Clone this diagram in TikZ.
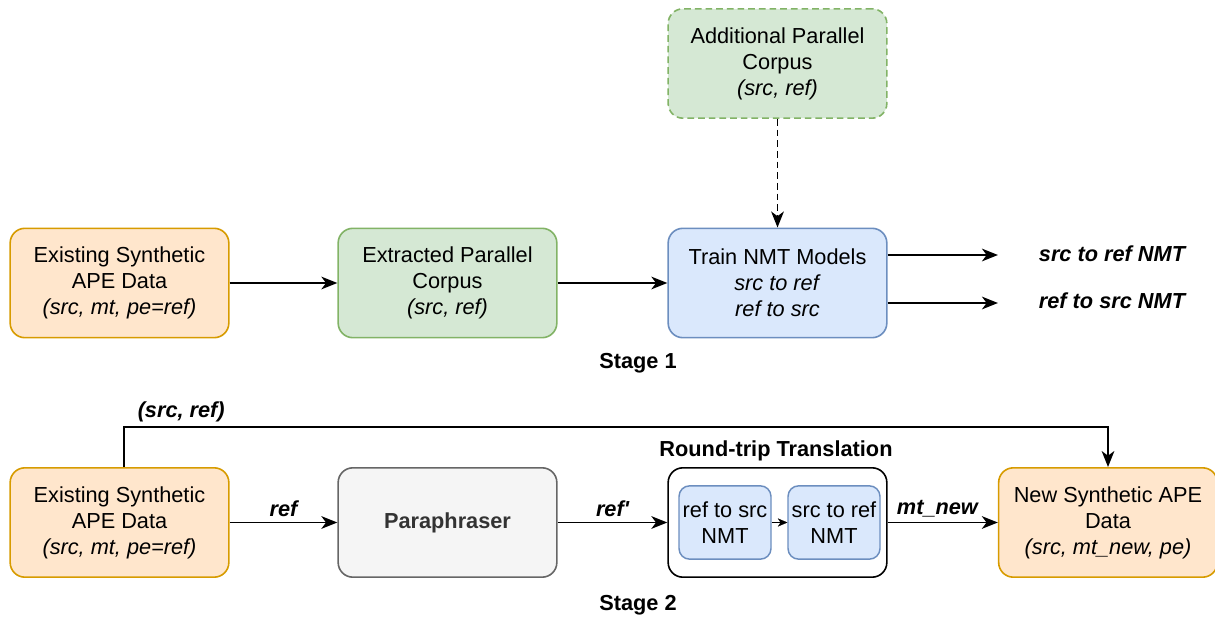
\documentclass[tikz,border=0pt]{standalone}
\usepackage{fontspec}
\setmainfont{Liberation Sans}
\usetikzlibrary{arrows.meta}
\definecolor{orfill}{HTML}{FFE6CC}
\definecolor{ordraw}{HTML}{D79B00}
\definecolor{grfill}{HTML}{D5E8D4}
\definecolor{grdraw}{HTML}{82B366}
\definecolor{blfill}{HTML}{DAE8FC}
\definecolor{bldraw}{HTML}{6C8EBF}
\definecolor{gyfill}{HTML}{F5F5F5}
\definecolor{gydraw}{HTML}{666666}
\definecolor{gytext}{HTML}{333333}
\begin{document}
\begin{tikzpicture}[x=0.75pt, y=-0.75pt,
  font=\fontsize{16.3}{19.5}\selectfont,
  box/.style={draw, rounded corners=11pt, line width=1.2pt, align=center,
              minimum width=164pt, minimum height=82pt, inner sep=2pt},
  orbox/.style={box, fill=orfill, draw=ordraw},
  grbox/.style={box, fill=grfill, draw=grdraw},
  blbox/.style={box, fill=blfill, draw=bldraw},
  small/.style={draw=bldraw, fill=blfill, rounded corners=8pt, line width=1.1pt,
                align=center, minimum width=69pt, minimum height=55pt, inner sep=1pt},
  lbl/.style={font=\fontsize{16.3}{19.5}\selectfont\bfseries\itshape},
  arr/.style={-{Stealth[length=12pt, width=9.5pt, inset=3.5pt]}, line width=1.4pt}]
  \useasboundingbox (0,0) rectangle (1215,617);

  % stage 1
  \node[orbox] (exist1) at (119.5,283) {Existing Synthetic\\APE Data\\\textit{(src, mt, pe=ref)}};
  \node[grbox] (extract) at (447.5,283) {Extracted Parallel\\Corpus\\\textit{(src, ref)}};
  \node[blbox] (train) at (777.5,283) {Train NMT Models\\\textit{src to ref}\\\textit{ref to src}};
  \node[grbox, dashed, dash pattern=on 5pt off 3pt] (extra) at (777.5,63.5) {Additional Parallel\\Corpus\\\textit{(src, ref)}};
  \node[lbl] (srcref) at (1112,254) {src to ref NMT};
  \node[lbl] (refsrc) at (1112,301) {ref to src NMT};
  \node[font=\fontsize{16.3}{19.5}\selectfont\bfseries] (stage1) at (638,363) {Stage 1};
  \coordinate (o1) at (998,255);
  \coordinate (o2) at (998,303);

  \draw[arr] (exist1) -- (extract);
  \draw[arr] (extract) -- (train);
  \draw[arr, dash pattern=on 5pt off 3pt] (extra) -- (train);
  \draw[arr] (train.east |- o1) -- (o1);
  \draw[arr] (train.east |- o2) -- (o2);

  % stage 2
  \node[orbox] (exist2) at (119.5,522.5) {Existing Synthetic\\APE Data\\\textit{(src, mt, pe=ref)}};
  \node[box, fill=gyfill, draw=gydraw, text=gytext, font=\fontsize{16.3}{19.5}\selectfont\bfseries] (para) at (447.5,522.5) {Paraphraser};
  \node[box, fill=white, draw=black] (rt) at (777.5,522.5) {};
  \node[font=\fontsize{16.3}{19.5}\selectfont\bfseries] (rttitle) at (776,451) {Round-trip Translation};
  \node[small] (rts) at (725,522.5) {ref to src\\NMT};
  \node[small] (str) at (834,522.5) {src to ref\\NMT};
  \node[orbox] (new) at (1108,522.5) {New Synthetic APE\\Data\\\textit{(src, mt\_new, pe)}};
  \node[font=\fontsize{16.3}{19.5}\selectfont\bfseries] (stage2) at (638,605) {Stage 2};

  \draw[arr] (exist2) -- node[lbl, above] {ref} (para);
  \draw[arr] (para) -- node[lbl, above] {ref\textquotesingle} (rt);
  \draw[-{Stealth[length=7pt, width=6pt, inset=2pt]}, line width=0.6pt, gydraw!40] (rts) -- (str);
  \draw[-{Stealth[length=7pt, width=6pt, inset=2pt]}, line width=0.1pt] (rts) -- (str);
  \draw[arr] (rt) -- node[lbl, above, xshift=-4pt] {mt\_new} (new);
  \draw[arr] ([xshift=3.5pt]exist2.north) -- ++(0,-40) -| node[lbl, pos=0.029, above] {(src, ref)} (new.north);
\end{tikzpicture}
\end{document}
